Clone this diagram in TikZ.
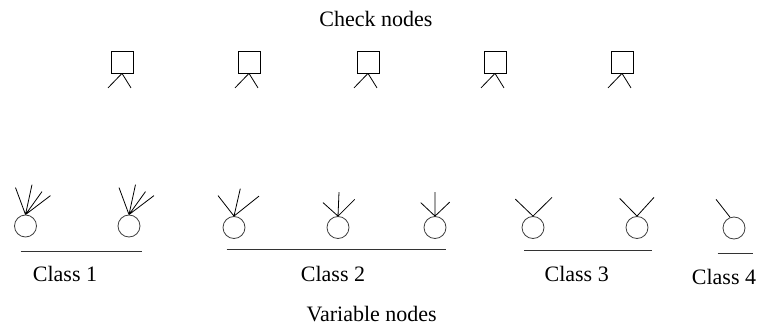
\documentclass[tikz,border=0pt]{standalone}
\usepackage{fontspec}
\setmainfont{Liberation Serif}
\usepackage{tikz}
\tikzset{sq/.style={draw, minimum size=16.5pt, inner sep=0pt, line width=0.6pt}}
\tikzset{ci/.style={draw=black!75, circle, minimum size=16.5pt, inner sep=0pt, line width=0.6pt}}
\tikzset{lbl/.style={font=\fontsize{16.5}{18}\selectfont, anchor=base}}
\tikzset{leg/.style={line width=0.6pt}}

\begin{document}
\begin{tikzpicture}[x=0.75pt, y=-0.75pt]
        \useasboundingbox (0,0) rectangle (761,328);
        \begin{scope}[leg]
          % check nodes
          \node [lbl] (top) at (376,26.7) {Check nodes};
          \node [sq] (c1) at (122,62) {};
          \draw (c1.south) -- +(-14,14.5) (c1.south) -- +(9,14.5);
          \node [sq] (c2) at (249,62) {};
          \draw (c2.south) -- +(-14,14.5) (c2.south) -- +(9,14.5);
          \node [sq] (c3) at (368,62) {};
          \draw (c3.south) -- +(-14,14.5) (c3.south) -- +(9,14.5);
          \node [sq] (c4) at (495,62) {};
          \draw (c4.south) -- +(-14,14.5) (c4.south) -- +(9,14.5);
          \node [sq] (c5) at (622,62) {};
          \draw (c5.south) -- +(-14,14.5) (c5.south) -- +(9,14.5);
          % variable nodes
          \node [ci] (v1) at (25.5,226) {};
          \draw (v1.north) -- +(-10,-27) (v1.north) -- +(6.5,-30)
                (v1.north) -- +(16.5,-23) (v1.north) -- +(25,-19);
          \node [ci] (v2) at (129,226) {};
          \draw (v2.north) -- +(-10,-27) (v2.north) -- +(6.5,-30)
                (v2.north) -- +(16.5,-23) (v2.north) -- +(25,-19);
          \node [ci] (v3) at (234,227.5) {};
          \draw (v3.north) -- +(-16,-20.5) (v3.north) -- +(6.3,-27.5) (v3.north) -- +(25,-20);
          \node [ci] (v4) at (338,227.5) {};
          \draw (v4.north) -- +(-15,-13.5) (v4.north) -- +(1,-24) (v4.north) -- +(16.7,-16.7);
          \node [ci] (v5) at (435,227.5) {};
          \draw (v5.north) -- +(-14.3,-13.5) (v5.north) -- +(0,-24) (v5.north) -- +(14.7,-14);
          \node [ci] (v6) at (533,227.5) {};
          \draw (v6.north) -- +(-17.7,-17) (v6.north) -- +(19,-18.7);
          \node [ci] (v7) at (637,227.5) {};
          \draw (v7.north) -- +(-17.3,-17.7) (v7.north) -- +(17,-18.7);
          \node [ci] (v8) at (734,228) {};
          \draw (v8.110) -- (716,199.3);
          % classes
          \draw [black!80] (20.7,251) -- (141.7,251);
          \node [lbl] (k1) at (65,281.7) {Class 1};
          \draw [black!80] (226.7,249) -- (446,249);
          \node [lbl] (k2) at (333,281.7) {Class 2};
          \draw [black!80] (524.3,250) -- (652.3,250);
          \node [lbl] (k3) at (576.7,281.7) {Class 3};
          \draw [black!80] (717.7,253.3) -- (753.3,253.3);
          \node [lbl] (k4) at (724,284) {Class 4};
          \node [lbl] (bot) at (371.7,321.7) {Variable nodes};
        \end{scope}
      \end{tikzpicture}
\end{document}
